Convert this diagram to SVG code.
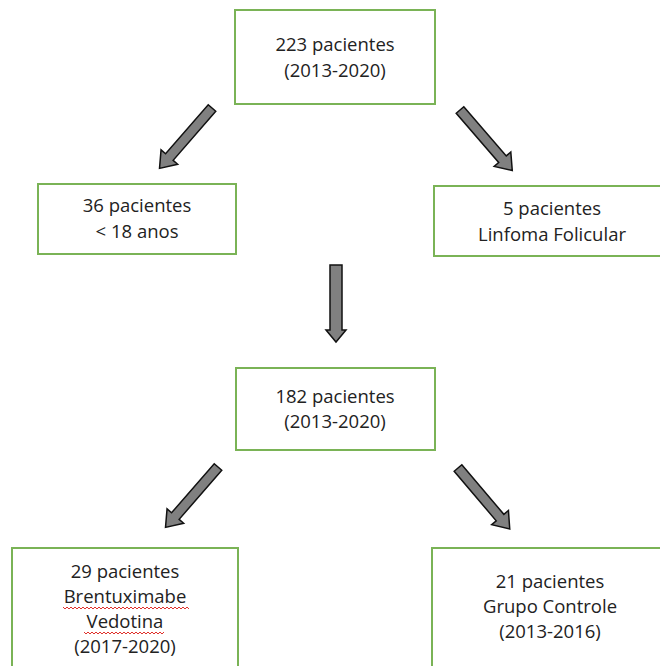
<svg xmlns="http://www.w3.org/2000/svg" width="660" height="666" viewBox="0 0 660 666">
<style>
.box{fill:#fff;stroke:#7ab356;stroke-width:2}
.t{font-family:"Open Sans","Liberation Sans",sans-serif;font-size:18.5px;fill:#222;text-anchor:middle}
.arr{fill:#808080;stroke:#111;stroke-width:1.5;stroke-linejoin:miter}
.sq{fill:none;stroke:#e0302a;stroke-width:1}
</style>
<defs>
<path id="diag" d="M0,-5 L65,-5 L65,-11 L80,0 L65,11 L65,5 L0,5 Z"/>
<path id="vert" d="M0,-6 L65,-6 L65,-10 L77,0 L65,10 L65,6 L0,6 Z"/>
</defs>
<rect width="660" height="666" fill="#fff"/>
<g id="connectors">
<use href="#diag" class="arr" transform="translate(212,108) rotate(131)"/>
<use href="#diag" class="arr" transform="translate(460,110) rotate(49.2)"/>
<use href="#vert" class="arr" transform="translate(336,265) rotate(90)"/>
<use href="#diag" class="arr" transform="translate(218,467) rotate(131)"/>
<use href="#diag" class="arr" transform="translate(458,468) rotate(49.7)"/>
</g>
<g id="n223">
<rect class="box" x="235" y="10" width="200" height="94"/>
<text class="t" x="335" y="51">223 pacientes</text>
<text class="t" x="335" y="77">(2013-2020)</text>
</g>
<g id="n36">
<rect class="box" x="38" y="184" width="198" height="70"/>
<text class="t" x="137" y="212">36 pacientes</text>
<text class="t" x="137" y="238">&lt; 18 anos</text>
</g>
<g id="n5">
<rect class="box" x="434" y="186" width="240" height="70"/>
<text class="t" x="552" y="215">5 pacientes</text>
<text class="t" x="552" y="241">Linfoma Folicular</text>
</g>
<g id="n182">
<rect class="box" x="236" y="368" width="199" height="82"/>
<text class="t" x="335" y="403">182 pacientes</text>
<text class="t" x="335" y="428">(2013-2020)</text>
</g>
<g id="n29">
<rect class="box" x="12" y="548" width="226" height="130"/>
<text class="t" x="125" y="578">29 pacientes</text>
<text class="t" x="125" y="603">Brentuximabe</text>
<text class="t" x="125" y="628">Vedotina</text>
<text class="t" x="125" y="653">(2017-2020)</text>
<path class="sq" d="M63,607 l2,2 l2,-2 l2,2 l2,-2 l2,2 l2,-2 l2,2 l2,-2 l2,2 l2,-2 l2,2 l2,-2 l2,2 l2,-2 l2,2 l2,-2 l2,2 l2,-2 l2,2 l2,-2 l2,2 l2,-2 l2,2 l2,-2 l2,2 l2,-2 l2,2 l2,-2 l2,2 l2,-2 l2,2 l2,-2 l2,2 l2,-2 l2,2 l2,-2 l2,2 l2,-2 l2,2 l2,-2 l2,2 l2,-2 l2,2 l2,-2 l2,2 l2,-2 l2,2 l2,-2 l2,2 l2,-2 l2,2 l2,-2 l2,2 l2,-2 l2,2 l2,-2 l2,2 l2,-2 l2,2 l2,-2 l2,2 l2,-2 l2,2"/>
<path class="sq" d="M84,632 l2,2 l2,-2 l2,2 l2,-2 l2,2 l2,-2 l2,2 l2,-2 l2,2 l2,-2 l2,2 l2,-2 l2,2 l2,-2 l2,2 l2,-2 l2,2 l2,-2 l2,2 l2,-2 l2,2 l2,-2 l2,2 l2,-2 l2,2 l2,-2 l2,2 l2,-2 l2,2 l2,-2 l2,2 l2,-2 l2,2 l2,-2 l2,2 l2,-2 l2,2 l2,-2 l2,2 l2,-2"/>
</g>
<g id="n21">
<rect class="box" x="432" y="548" width="240" height="130"/>
<text class="t" x="550" y="588">21 pacientes</text>
<text class="t" x="550" y="613">Grupo Controle</text>
<text class="t" x="550" y="638">(2013-2016)</text>
</g>
</svg>
